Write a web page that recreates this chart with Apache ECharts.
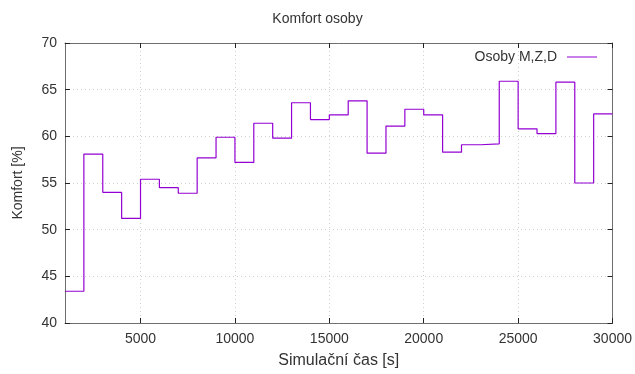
<!DOCTYPE html>
<html>
<head>
<meta charset="utf-8">
<script src="https://cdn.jsdelivr.net/npm/echarts@6/dist/echarts.min.js"></script>
<style>
  html, body { margin: 0; padding: 0; background: #fff; }
  #chart { width: 635px; height: 374px; }
</style>
</head>
<body>
<div id="chart"></div>
<script>
// Simulation time at the start of each 1000 s interval [s]
const times = [
  1000, 2000, 3000, 4000, 5000, 6000, 7000, 8000, 9000, 10000,
  11000, 12000, 13000, 14000, 15000, 16000, 17000, 18000, 19000, 20000,
  21000, 22000, 23000, 24000, 25000, 26000, 27000, 28000, 29000, 30000
];
// Comfort of persons M, Z, D [%]
const comfort = [
  43.4, 58.1, 54.0, 51.2, 55.4, 54.5, 53.9, 57.7, 59.9, 57.2,
  61.4, 59.8, 63.6, 61.8, 62.3, 63.8, 58.2, 61.1, 62.9, 62.3,
  58.3, 59.1, 59.2, 65.9, 60.8, 60.3, 65.8, 55.0, 62.4, 62.4
];
const xTicks = [5000, 10000, 15000, 20000, 25000, 30000];
const seriesName = 'Osoby M,Z,D';

const font = 'Liberation Sans, Arial, sans-serif';
const labelColor = '#333';
const borderColor = '#6e6e6e';
const tickStyle = { color: '#222', width: 1 };
const gridLine = { show: true, lineStyle: { color: '#d0d0d0', type: [1, 3], width: 1 } };
const plainNumber = v => String(v);

const chart = echarts.init(document.getElementById('chart'), null, { renderer: 'canvas' });

chart.setOption({
  animation: false,
  backgroundColor: '#fff',
  title: {
    text: 'Komfort osoby',
    left: 'center',
    top: 7,
    textStyle: { fontFamily: font, fontSize: 14, fontWeight: 'normal', color: labelColor }
  },
  legend: {
    right: 33,
    top: 45,
    itemWidth: 30,
    itemHeight: 1,
    align: 'right',
    icon: 'rect',
    textStyle: { fontFamily: font, fontSize: 14, color: labelColor, padding: [0, 5, 0, 0] },
    data: [seriesName]
  },
  grid: { left: 65, right: 22, top: 43, bottom: 49, containLabel: false },
  xAxis: [
    {
      type: 'value',
      min: 1000,
      max: 30000,
      name: 'Simulační čas [s]',
      nameLocation: 'middle',
      nameGap: 30,
      nameTextStyle: { fontFamily: font, fontSize: 16, color: labelColor },
      axisLine: { show: true, onZero: false, lineStyle: { color: borderColor, width: 1 } },
      axisTick: { show: true, inside: true, length: 5, customValues: xTicks, lineStyle: tickStyle },
      axisLabel: { customValues: xTicks, formatter: plainNumber, fontFamily: font, fontSize: 14, color: labelColor, margin: 9 },
      splitLine: gridLine
    },
    {
      type: 'value',
      position: 'top',
      min: 1000,
      max: 30000,
      axisLine: { show: true, onZero: false, lineStyle: { color: borderColor, width: 1 } },
      axisTick: { show: true, inside: true, length: 5, customValues: xTicks, lineStyle: tickStyle },
      axisLabel: { show: false },
      splitLine: { show: false }
    }
  ],
  yAxis: [
    {
      type: 'value',
      min: 40,
      max: 70,
      interval: 5,
      name: 'Komfort [%]',
      nameLocation: 'middle',
      nameGap: 40,
      nameRotate: 90,
      nameTextStyle: { fontFamily: font, fontSize: 14, color: labelColor },
      axisLine: { show: true, onZero: false, lineStyle: { color: borderColor, width: 1 } },
      axisTick: { show: true, inside: true, length: 5, lineStyle: tickStyle },
      axisLabel: { formatter: plainNumber, fontFamily: font, fontSize: 14, color: labelColor, margin: 8 },
      splitLine: gridLine
    },
    {
      type: 'value',
      position: 'right',
      min: 40,
      max: 70,
      interval: 5,
      axisLine: { show: true, onZero: false, lineStyle: { color: borderColor, width: 1 } },
      axisTick: { show: true, inside: true, length: 5, lineStyle: tickStyle },
      axisLabel: { show: false },
      splitLine: { show: false }
    }
  ],
  series: [
    {
      name: seriesName,
      type: 'line',
      step: 'end',
      showSymbol: false,
      symbol: 'none',
      xAxisIndex: 0,
      yAxisIndex: 0,
      color: '#9400d3',
      lineStyle: { color: '#9400d3', width: 1.2 },
      data: times.map((t, i) => [t, comfort[i]])
    }
  ]
});
</script>
</body>
</html>
